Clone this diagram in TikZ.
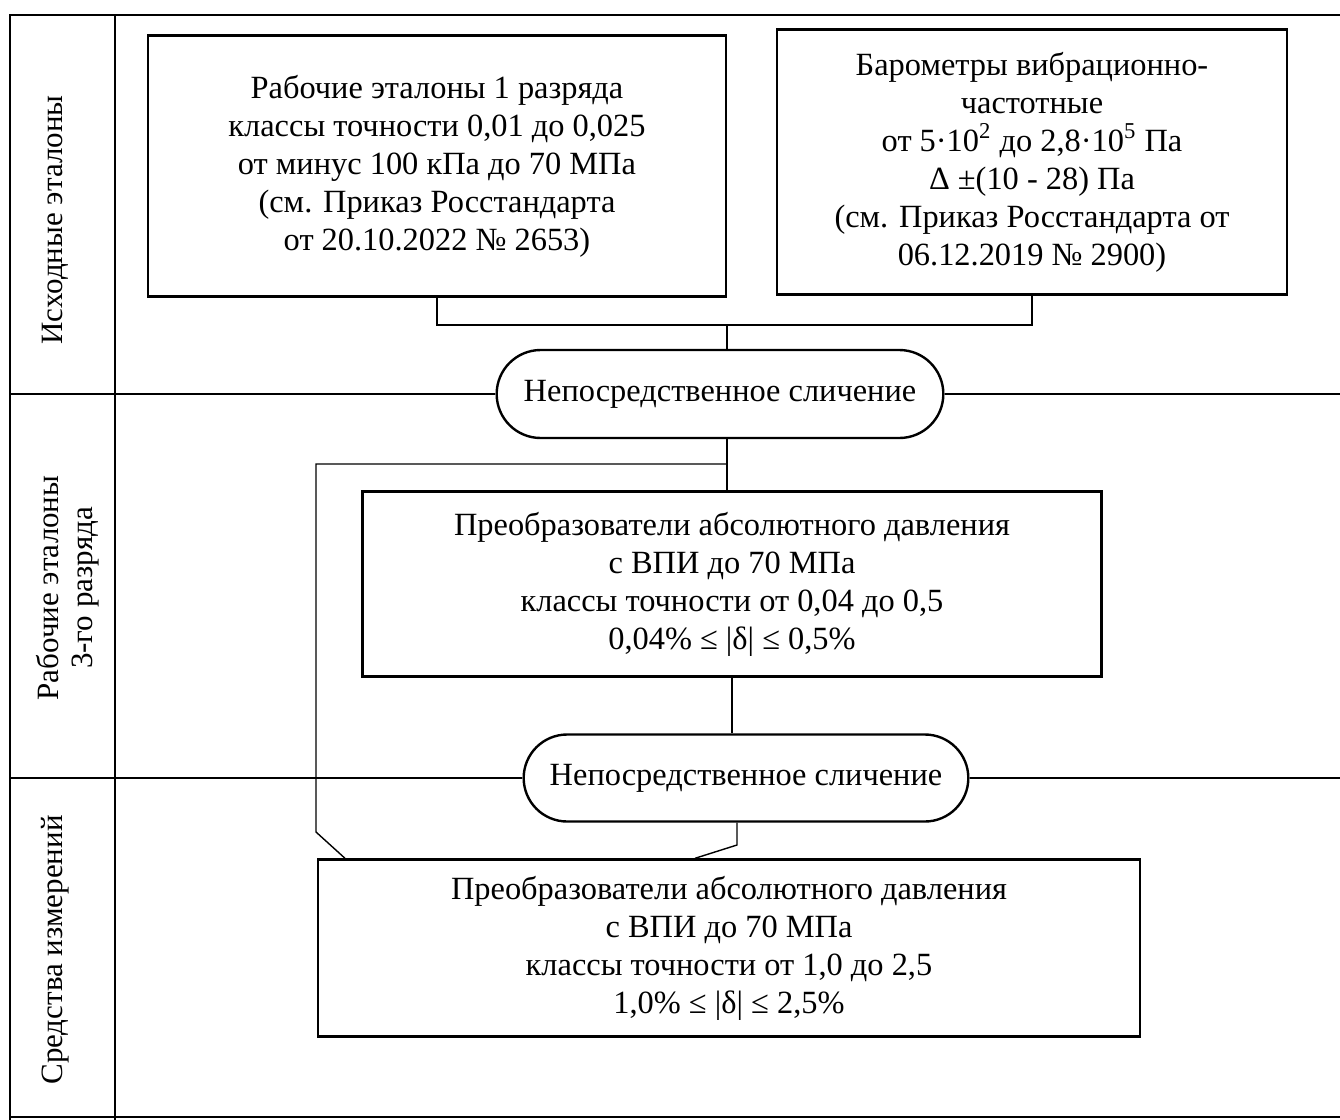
\documentclass[tikz,border=0pt]{standalone}
\usepackage{fontspec}
\setmainfont{Liberation Serif}
\usetikzlibrary{shapes.misc}
\begin{document}
\begin{tikzpicture}[
  x=0.5pt, y=-0.5pt,
  box/.style={draw, line width=1.2pt, align=center, font=\fontsize{16.2}{19}\selectfont},
  cmp/.style={rounded rectangle, draw, line width=1.2pt, font=\fontsize{16.2}{19}\selectfont},
  e/.style={line width=0.7pt},
  lbl/.style={rotate=90, align=center, font=\fontsize{15.5}{17}\selectfont}
]
\useasboundingbox (0,0) rectangle (1340,1120);

% Frame
\draw[e] (10,1120) |- (1340,15);
\draw[e] (115,15) -- (115,1120);
\draw[e] (10,1117) -- (1340,1117);
\node[lbl] (l1) at (55,220) {Исходные эталоны};
\node[lbl] (l2) at (68,588) {Рабочие эталоны\\3-го разряда};
\node[lbl] (l3) at (55,950) {Средства измерений};

% Top row
\node[box, minimum width=289pt, minimum height=130.5pt] (b1) at (437,166)
  {Рабочие эталоны 1 разряда\\классы точности 0,01 до 0,025\\от минус 100 кПа до 70 МПа\\(см. Приказ Росстандарта\\от 20.10.2022 № 2653)};
\node[box, minimum width=255pt, minimum height=132.5pt] (b2) at (1032,162)
  {Барометры вибрационно-\\частотные\\от 5·10\textsuperscript{2} до 2,8·10\textsuperscript{5} Па\\Δ ±(10 - 28) Па\\(см. Приказ Росстандарта от\\06.12.2019 № 2900)};
\coordinate (j1) at (727,325);
\node[cmp, minimum width=230pt, minimum height=44pt] (c1) at (720,394) {Непосредственное сличение};
\draw[e] (b1.south) |- (j1) -| (b2.south);
\draw[e] (j1) -- (j1 |- c1.north);
\draw[e] (10,394) -- (c1.west);
\draw[e] (c1.east) -- (1340,394);

% Middle row
\node[box, minimum width=369.5pt, minimum height=92.5pt] (b3) at (732,584)
  {Преобразователи абсолютного давления\\с ВПИ до 70 МПа\\классы точности от 0,04 до 0,5\\0,04\% ≤ |δ| ≤ 0,5\%};
\node[cmp, minimum width=229pt, minimum height=43.5pt] (c2) at (746,778) {Непосредственное сличение};
\coordinate (j2) at (727,464);
\draw[e] (j1 |- c1.south) -- (j1 |- b3.north);
\draw[e] (b3.south) -- (b3.south |- c2.north);
\draw[e] (10,778) -- (c2.west);
\draw[e] (c2.east) -- (1340,778);

% Bottom row
\node[box, minimum width=411pt, minimum height=88.5pt] (b4) at (729,948)
  {Преобразователи абсолютного давления\\с ВПИ до 70 МПа\\классы точности от 1,0 до 2,5\\1,0\% ≤ |δ| ≤ 2,5\%};
\coordinate (k1) at (316,832);
\coordinate (k2) at (345,860);
\coordinate (k3) at (737,845);
\coordinate (k4) at (695,860);
\draw[e] (j2) -| (k1) -- (k2 |- b4.north);
\draw[e] (c2.south -| k3) -- (k3) -- (k4 |- b4.north);
\end{tikzpicture}
\end{document}
